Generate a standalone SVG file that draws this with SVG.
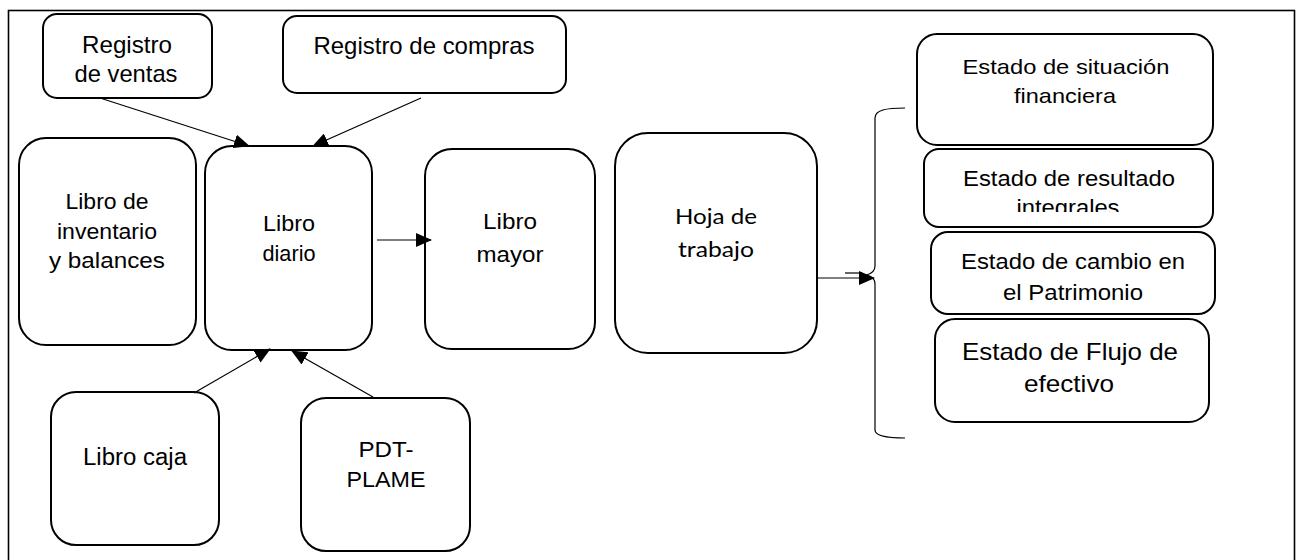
<svg xmlns="http://www.w3.org/2000/svg" width="1297" height="560" viewBox="0 0 1297 560">
<style>
.box{fill:#fff;stroke:#000;stroke-width:2}
.t{font-family:"Liberation Sans",Arial,sans-serif;fill:#000;text-anchor:middle}
.c{font-family:Lato,"Open Sans",sans-serif;fill:#000;text-anchor:middle}
.con{stroke:#000;stroke-width:1.2;fill:none}
</style>
<defs>
<marker id="ah" markerUnits="userSpaceOnUse" markerWidth="16" markerHeight="14" refX="15" refY="7" orient="auto">
<path d="M0,0 L16,7 L0,14 z" fill="#000"/>
</marker>
<clipPath id="clipInt"><rect x="924" y="149" width="290" height="63"/></clipPath>
</defs>
<rect x="8.5" y="10.5" width="1286" height="570" fill="#fff" stroke="#000" stroke-width="1.6"/>

<g id="registro-ventas">
<rect class="box" x="43" y="14" width="169" height="84" rx="14"/>
<text class="t" font-size="24" x="127" y="53" textLength="90" lengthAdjust="spacingAndGlyphs">Registro</text>
<text class="t" font-size="24" x="126" y="82" textLength="103" lengthAdjust="spacingAndGlyphs">de ventas</text>
</g>
<g id="registro-compras">
<rect class="box" x="283" y="16" width="283" height="77" rx="14"/>
<text class="t" font-size="24" x="424" y="54" textLength="221" lengthAdjust="spacingAndGlyphs">Registro de compras</text>
</g>
<g id="libro-inventario">
<rect class="box" x="19" y="138" width="177" height="207" rx="27"/>
<text class="t" font-size="21.5" x="107" y="209" textLength="83" lengthAdjust="spacingAndGlyphs">Libro de</text>
<text class="t" font-size="21.5" x="107" y="239" textLength="100" lengthAdjust="spacingAndGlyphs">inventario</text>
<text class="t" font-size="21.5" x="107" y="268" textLength="116" lengthAdjust="spacingAndGlyphs">y balances</text>
</g>
<g id="libro-diario">
<rect class="box" x="205" y="146" width="167" height="204" rx="27"/>
<text class="t" font-size="22" x="289" y="231" textLength="52" lengthAdjust="spacingAndGlyphs">Libro</text>
<text class="t" font-size="22" x="289" y="261" textLength="53" lengthAdjust="spacingAndGlyphs">diario</text>
</g>
<g id="libro-mayor">
<rect class="box" x="425" y="149" width="170" height="200" rx="27"/>
<text class="t" font-size="22" x="510" y="229" textLength="54" lengthAdjust="spacingAndGlyphs">Libro</text>
<text class="t" font-size="22" x="510" y="262" textLength="67" lengthAdjust="spacingAndGlyphs">mayor</text>
</g>
<g id="hoja-trabajo">
<rect class="box" x="615" y="133" width="202" height="220" rx="33"/>
<text class="c" font-size="22" x="716" y="224" textLength="82" lengthAdjust="spacingAndGlyphs">Hoja de</text>
<text class="c" font-size="22" x="716" y="257" textLength="76" lengthAdjust="spacingAndGlyphs">trabajo</text>
</g>
<g id="libro-caja">
<rect class="box" x="51" y="392" width="168" height="153" rx="25"/>
<text class="t" font-size="23" x="135" y="465" textLength="104" lengthAdjust="spacingAndGlyphs">Libro caja</text>
</g>
<g id="pdt-plame">
<rect class="box" x="301" y="398" width="169" height="153" rx="25"/>
<text class="t" font-size="22" x="386" y="457" textLength="55" lengthAdjust="spacingAndGlyphs">PDT-</text>
<text class="t" font-size="22" x="386" y="487" textLength="79" lengthAdjust="spacingAndGlyphs">PLAME</text>
</g>
<g id="estado-situacion">
<rect class="box" x="917" y="34" width="296" height="111" rx="20"/>
<text class="t" font-size="21" x="1066" y="74" textLength="207" lengthAdjust="spacingAndGlyphs">Estado de situación</text>
<text class="t" font-size="21" x="1065" y="103" textLength="102" lengthAdjust="spacingAndGlyphs">financiera</text>
</g>
<g id="estado-resultado">
<rect class="box" x="924" y="149" width="289" height="78" rx="15"/>
<text class="t" font-size="22" x="1069" y="186" textLength="212" lengthAdjust="spacingAndGlyphs">Estado de resultado</text>
<text class="t" font-size="22" x="1068" y="215" textLength="103" lengthAdjust="spacingAndGlyphs" clip-path="url(#clipInt)">integrales</text>
</g>
<g id="estado-cambio">
<rect class="box" x="931" y="232" width="284" height="82" rx="17"/>
<text class="t" font-size="22.5" x="1073" y="269" textLength="224" lengthAdjust="spacingAndGlyphs">Estado de cambio en</text>
<text class="t" font-size="22.5" x="1073" y="300" textLength="140" lengthAdjust="spacingAndGlyphs">el Patrimonio</text>
</g>
<g id="estado-flujo">
<rect class="box" x="935" y="319" width="274" height="103" rx="20"/>
<text class="t" font-size="24" x="1070" y="360" textLength="216" lengthAdjust="spacingAndGlyphs">Estado de Flujo de</text>
<text class="t" font-size="24" x="1069" y="392" textLength="90" lengthAdjust="spacingAndGlyphs">efectivo</text>
</g>

<g id="connectors">
<line class="con" x1="100" y1="98" x2="249" y2="146" marker-end="url(#ah)"/>
<line class="con" x1="421" y1="98" x2="313" y2="146" marker-end="url(#ah)"/>
<line class="con" x1="194" y1="393" x2="270" y2="349" marker-end="url(#ah)"/>
<line class="con" x1="373" y1="397" x2="292" y2="351" marker-end="url(#ah)"/>
<line class="con" x1="377" y1="240" x2="431" y2="240" marker-end="url(#ah)"/>
<path class="con" d="M905,108 C886,108 875,110 875,118 L875,266 C875,272 871,274 866,275 C871,276 875,278 875,284 L875,430 C875,436 886,438 905,438"/>
<line class="con" x1="817" y1="278" x2="874" y2="278" marker-end="url(#ah)"/>
<line class="con" x1="845" y1="273" x2="862" y2="273"/>
</g>
</svg>
